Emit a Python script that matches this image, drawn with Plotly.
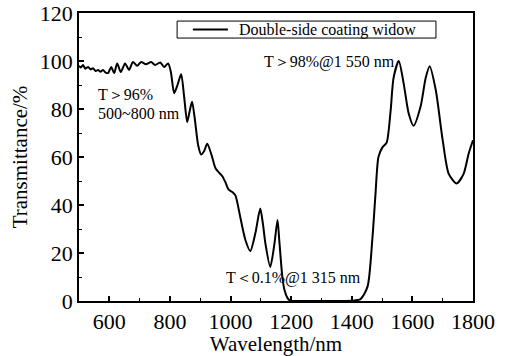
import plotly.graph_objects as go

wavelength = [500, 506, 513, 521, 530, 538, 546, 555, 563, 571, 579, 588, 596, 606, 616, 626,
              638, 652, 665, 678, 692, 705, 721, 738, 751, 768, 781, 794, 803, 814, 825, 837,
              847, 857, 865, 873, 882, 893, 903, 913, 923, 937, 950, 962, 973, 983, 993, 1006,
              1016, 1032, 1049, 1065, 1082, 1098, 1107, 1115, 1131, 1145, 1155, 1161, 1171,
              1178, 1188, 1197, 1220, 1300, 1400, 1429, 1452, 1468, 1478, 1488, 1501, 1515,
              1528, 1538, 1555, 1571, 1588, 1604, 1627, 1644, 1657, 1677, 1700, 1720, 1746,
              1769, 1786, 1800]
transmittance = [98, 97.3, 98.3, 96.8, 97.5, 96.5, 97, 95.8, 96.3, 95.5, 96.3, 95.2, 95, 97.5,
                 95, 99, 95.4, 99, 96.3, 99.6, 98, 99.6, 98.6, 99.6, 98.3, 99.4, 97.5, 99, 95.5,
                 86.6, 90, 94.5, 85, 74.6, 79, 83, 76, 65, 61, 62.5, 65.5, 61, 55.4, 53.5, 52,
                 49.5, 46.5, 45.4, 44, 35, 25.4, 20.8, 28.3, 38.5, 32, 24, 14.2, 24, 33.8, 25,
                 10, 4.6, 1.2, 0.1, 0, 0, 0.1, 0.8, 6, 26, 44, 60, 64, 66, 79, 93, 100, 90.8,
                 78, 73, 81, 93, 97.8, 88, 67, 53, 49, 53, 61.6, 67]

series_name = "Double-side coating widow"
x_ticks = [600, 800, 1000, 1200, 1400, 1600, 1800]
y_ticks = [0, 20, 40, 60, 80, 100, 120]

FONT = "Liberation Serif, Times New Roman, serif"

fig = go.Figure()
fig.add_trace(go.Scatter(
    x=wavelength, y=transmittance, mode="lines", name=series_name,
    line=dict(color="black", width=2, shape="spline", smoothing=0.7),
    showlegend=False,
))

axis_common = dict(
    showline=True, linecolor="black", linewidth=1.5, mirror=True,
    ticks="inside", ticklen=5, tickwidth=1.5, tickcolor="black",
    showgrid=False, zeroline=False, automargin=False,
    tickfont=dict(family=FONT, size=22, color="black"),
)

fig.update_xaxes(
    range=[500, 1800], tickvals=x_ticks,
    minor=dict(ticks="inside", ticklen=3, tickwidth=1.2, tickcolor="black", dtick=100, tick0=500),
    title=dict(text="Wavelength/nm", font=dict(family=FONT, size=21, color="black"), standoff=4),
    **axis_common,
)
fig.update_yaxes(
    range=[0, 120], tickvals=y_ticks,
    minor=dict(ticks="inside", ticklen=3, tickwidth=1.2, tickcolor="black", dtick=10, tick0=0),
    title=dict(text="Transmittance/%", font=dict(family=FONT, size=21, color="black"), standoff=6),
    **axis_common,
)

ann_font = dict(family=FONT, size=16, color="black")
fig.add_annotation(x=556, y=86, text="T＞96%", showarrow=False, xanchor="left", yanchor="middle", font=ann_font)
fig.add_annotation(x=556, y=78.3, text="500~800 nm", showarrow=False, xanchor="left", yanchor="middle", font=ann_font)
fig.add_annotation(x=1105, y=99.6, text="T＞98%@1 550 nm", showarrow=False, xanchor="left", yanchor="middle", font=ann_font)
fig.add_annotation(x=979, y=9.6, text="T＜0.1%@1 315 nm", showarrow=False, xanchor="left", yanchor="middle", font=ann_font)

# legend box (drawn manually to match the compact frame of the original)
fig.add_shape(type="rect", xref="paper", yref="paper", x0=0.249, x1=0.906, y0=0.913, y1=0.972,
              line=dict(color="black", width=1), fillcolor="white", layer="above")
fig.add_shape(type="line", xref="paper", yref="paper", x0=0.289, x1=0.378, y0=0.9425, y1=0.9425,
              line=dict(color="black", width=2), layer="above")
fig.add_annotation(xref="paper", yref="paper", x=0.401, y=0.9425, text=series_name,
                   showarrow=False, xanchor="left", yanchor="middle",
                   font=dict(family=FONT, size=16, color="black"))

fig.update_layout(
    width=509, height=356,
    margin=dict(l=79, r=36, t=13, b=55),
    paper_bgcolor="white", plot_bgcolor="white",
    font=dict(family=FONT, color="black"),
    showlegend=False,
)

fig.write_html("out.html", config={"displayModeBar": False},
               post_script="document.body.style.margin='0';")
